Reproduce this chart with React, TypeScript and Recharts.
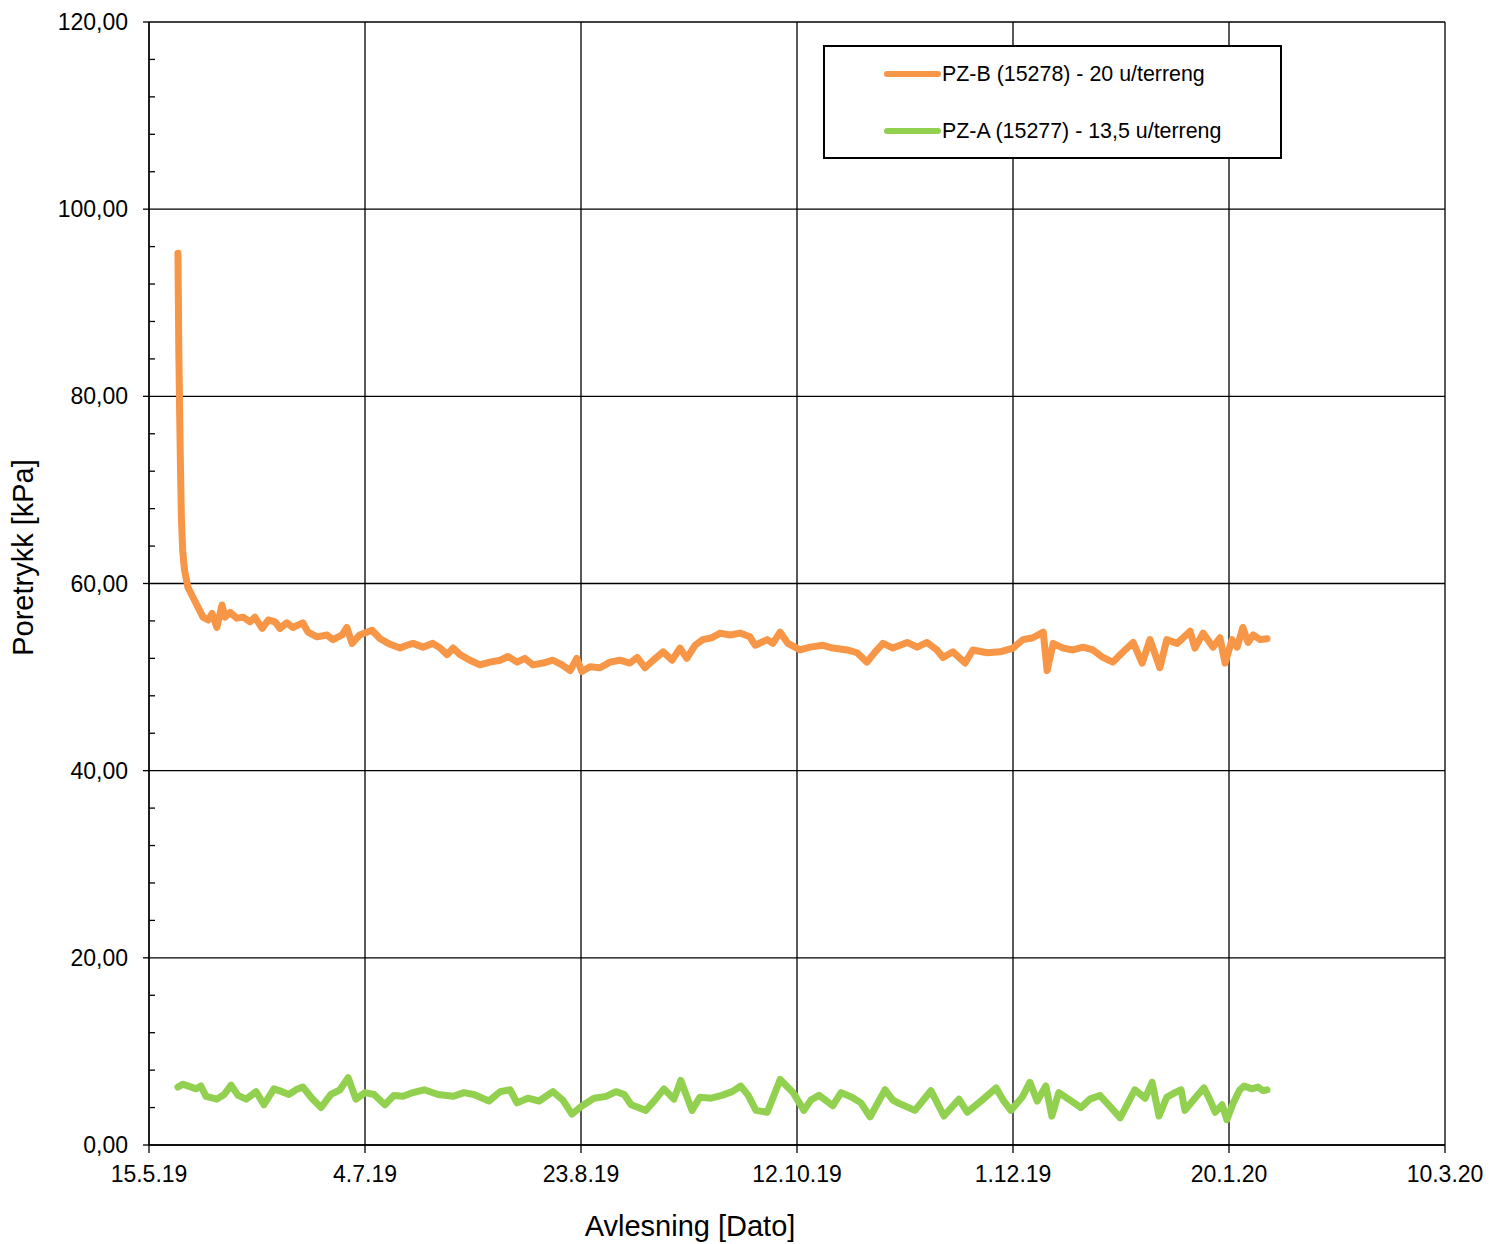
import { LineChart, Line, XAxis, YAxis, CartesianGrid, Legend, Label } from 'recharts'

const ORANGE = '#F79646'
const GREEN  = '#92D050'
const FONT   = '"Liberation Sans", Arial, sans-serif'

// x values are days after 15.5.19
const pzBDay = [
  6.7, 6.9, 7.1, 7.3, 7.5, 7.8, 8.2, 9.0, 10.2, 11.3, 12.5, 13.7, 14.6, 15.7, 16.9, 17.6, 18.8, 20.3,
  21.8, 23.4, 24.5, 26.2, 27.6, 29.2, 30.3, 31.9, 33.3, 35.6, 36.8, 38.9, 41.2, 42.6, 44.7, 45.8,
  47.0, 48.8, 51.6, 53.5, 55.8, 58.1, 59.7, 61.1, 63.4, 65.7, 67.4, 69.0, 70.4, 72.0, 74.3, 76.6,
  78.9, 81.3, 83.1, 85.2, 87.0, 88.9, 91.2, 93.5, 95.6, 97.5, 99.0, 100.2, 102.1, 104.4, 106.7,
  109.0, 111.3, 113.0, 114.8, 116.7, 119.0, 121.1, 122.9, 124.5, 126.4, 128.2, 130.3, 132.2, 134.5,
  136.8, 139.1, 140.3, 143.1, 144.4, 146.1, 147.9, 150.7, 153.0, 156.0, 158.3, 161.6, 163.9, 166.2,
  168.1, 169.9, 172.2, 175.5, 177.8, 180.1, 182.4, 183.8, 186.1, 188.9, 190.7, 194.0, 197.0, 200.0,
  202.3, 204.6, 207.0, 207.9, 209.3, 211.6, 213.9, 216.2, 218.5, 220.8, 223.1, 225.5, 227.8, 229.9,
  231.7, 234.0, 235.6, 238.0, 241.0, 242.1, 244.0, 246.3, 247.9, 249.1, 250.7, 251.9, 253.2, 254.4,
  255.6, 257.2, 258.8,
]
const pzBKpa = [
  95.3, 85.0, 78.0, 72.0, 67.0, 63.5, 61.5, 59.6, 58.5, 57.5, 56.4, 56.1, 56.8, 55.3, 57.7, 56.4, 56.9, 56.3,
  56.4, 55.9, 56.4, 55.2, 56.1, 55.9, 55.2, 55.8, 55.3, 55.8, 54.8, 54.3, 54.5, 54.0, 54.5, 55.3,
  53.6, 54.5, 55.0, 54.1, 53.5, 53.1, 53.4, 53.6, 53.2, 53.6, 53.1, 52.4, 53.1, 52.4, 51.8, 51.3,
  51.6, 51.8, 52.2, 51.6, 52.0, 51.3, 51.5, 51.8, 51.3, 50.7, 52.0, 50.6, 51.1, 51.0, 51.6,
  51.8, 51.5, 52.1, 51.0, 51.8, 52.7, 51.8, 53.1, 52.0, 53.4, 54.0, 54.2, 54.7, 54.5,
  54.7, 54.3, 53.4, 54.0, 53.6, 54.8, 53.6, 52.9, 53.2, 53.4, 53.1, 52.9, 52.6, 51.6,
  52.7, 53.6, 53.1, 53.7, 53.2, 53.7, 52.9, 52.1, 52.7, 51.5, 52.9, 52.6, 52.7, 53.1,
  54.0, 54.2, 54.8, 50.7, 53.6, 53.1, 52.9, 53.2, 52.9, 52.1, 51.6, 52.7, 53.7, 51.5,
  54.0, 51.0, 54.0, 53.6, 54.9, 53.1, 54.7, 53.2, 54.2, 51.5, 54.0, 53.2, 55.3, 53.7,
  54.5, 54.0, 54.1,
]

const pzADay = [
  6.7, 7.9, 10.9, 12.0, 13.2, 15.7, 17.4, 19.0, 20.6, 22.5, 24.8, 26.6, 28.9, 30.8, 32.4, 34.0, 35.6,
  37.7, 39.8, 42.1, 44.2, 46.1, 47.9, 50.0, 52.1, 54.6, 56.7, 58.8, 61.1, 63.7, 66.9, 70.4, 72.9,
  75.2, 78.7, 81.3, 83.6, 85.2, 87.7, 90.3, 93.5, 95.8, 97.9, 100.0, 103.0, 105.8, 108.1, 110.0,
  111.6, 115.0, 117.1, 119.2, 121.5, 123.1, 125.7, 127.5, 130.1, 132.6, 135.0, 137.0, 138.7, 140.5,
  143.1, 144.4, 146.1, 149.1, 151.6, 153.2, 155.1, 158.3, 160.2, 162.7, 164.8, 166.9, 170.4, 172.2,
  173.8, 177.3, 181.0, 184.0, 187.5, 189.4, 192.6, 196.1, 197.7, 199.5, 202.1, 203.9, 205.6, 207.6,
  209.0, 210.6, 213.2, 215.7, 217.8, 220.1, 222.7, 224.8, 228.2, 230.6, 232.2, 233.8, 235.6, 237.5,
  238.9, 239.8, 242.1, 244.2, 245.6, 246.8, 248.4, 249.5, 250.9, 252.5, 253.5, 255.3, 256.7, 257.9,
  258.8,
]
const pzAKpa = [
  6.2, 6.5, 6.0, 6.3, 5.2, 4.9, 5.4, 6.4, 5.3, 4.9, 5.7, 4.3, 6.0, 5.7, 5.4, 5.9, 6.2,
  5.0, 4.0, 5.4, 5.9, 7.2, 4.9, 5.6, 5.4, 4.3, 5.3, 5.2, 5.6, 5.9, 5.4, 5.2, 5.6,
  5.4, 4.7, 5.7, 5.9, 4.5, 5.0, 4.7, 5.7, 4.8, 3.3, 4.1, 5.0, 5.2, 5.7, 5.4,
  4.3, 3.7, 4.8, 6.0, 4.9, 6.9, 3.7, 5.1, 5.0, 5.3, 5.7, 6.3, 5.3, 3.7,
  3.5, 5.0, 7.0, 5.6, 3.7, 4.8, 5.3, 4.2, 5.6, 5.1, 4.5, 3.0, 5.9, 4.8,
  4.4, 3.7, 5.8, 3.1, 4.9, 3.5, 4.7, 6.1, 4.8, 3.7, 5.1, 6.7, 4.7, 6.3,
  3.1, 5.6, 4.8, 4.0, 4.9, 5.3, 4.0, 2.9, 5.9, 5.0, 6.7, 3.1, 5.1, 5.6,
  5.9, 3.7, 5.0, 6.1, 4.8, 3.5, 4.3, 2.7, 4.4, 5.9, 6.3, 6.0, 6.2, 5.8,
  5.9,
]

const xTicks  = [0, 50, 100, 150, 200, 250, 300]
const yMajor  = [0, 20, 40, 60, 80, 100, 120]
const yTicks  = [0, 4, 8, 12, 16, 20, 24, 28, 32, 36, 40, 44, 48, 52, 56, 60, 64, 68, 72, 76, 80,
                 84, 88, 92, 96, 100, 104, 108, 112, 116, 120]

const START = Date.UTC(2019, 4, 15)

const pzBData = pzBDay.map((d, i) => ({ d, v: pzBKpa[i] }))
const pzAData = pzADay.map((d, i) => ({ d, v: pzAKpa[i] }))

function fmtDate(d: number) {
  const dt = new Date(START + d * 86400000)
  return `${dt.getUTCDate()}.${dt.getUTCMonth() + 1}.${dt.getUTCFullYear() % 100}`
}

function YTick({ x, y, payload }: any) {
  const v = payload.value as number
  if (v % 20 !== 0) {
    return <line x1={x} x2={x + 6} y1={y} y2={y} stroke="#000" strokeWidth={1.3} />
  }
  return (
    <g>
      <line x1={x - 6} x2={x} y1={y} y2={y} stroke="#000" strokeWidth={1.3} />
      <text x={x - 21} y={y} dy="0.355em" textAnchor="end"
        style={{ fontFamily: FONT, fontSize: 23, fill: '#000' }}>
        {v.toFixed(2).replace('.', ',')}
      </text>
    </g>
  )
}

function XTick({ x, y, payload }: any) {
  return (
    <text x={x} y={y + 29} textAnchor="middle" style={{ fontFamily: FONT, fontSize: 23, fill: '#000' }}>
      {fmtDate(payload.value)}
    </text>
  )
}

function YTitle({ viewBox }: any) {
  const cy = viewBox.y + viewBox.height / 2 - 26
  return (
    <text x={25} y={cy} transform={`rotate(-90, 25, ${cy})`} textAnchor="middle"
      style={{ fontFamily: FONT, fontSize: 29, fill: '#000' }}>
      Poretrykk [kPa]
    </text>
  )
}

function XTitle({ viewBox }: any) {
  const cx = viewBox.x + viewBox.width / 2 - 107
  return (
    <text x={cx} y={1228} textAnchor="middle" style={{ fontFamily: FONT, fontSize: 29, fill: '#000' }}>
      Avlesning [Dato]
    </text>
  )
}

const legendItems = [
  { name: 'PZ-B (15278) - 20 u/terreng', color: ORANGE, top: 29 },
  { name: 'PZ-A (15277) - 13,5 u/terreng', color: GREEN, top: 86 },
]

function BoxLegend() {
  return (
    <div style={{
      position: 'relative', width: 459, height: 114, boxSizing: 'border-box',
      border: '2px solid #000', background: '#fff', fontFamily: FONT, fontSize: 21.4, color: '#000',
    }}>
      {legendItems.map(it => (
        <div key={it.name} style={{ position: 'absolute', left: 0, top: it.top - 2 - 14, height: 28, display: 'flex', alignItems: 'center' }}>
          <svg width={117} height={28} style={{ display: 'block' }}>
            <line x1={62} x2={113} y1={14} y2={14} stroke={it.color} strokeWidth={6} strokeLinecap="round" />
          </svg>
          <span style={{ whiteSpace: 'nowrap' }}>{it.name}</span>
        </div>
      ))}
    </div>
  )
}

export default function App() {
  return (
    <LineChart width={1494} height={1236} margin={{ top: 14, right: 57, left: 0, bottom: 0 }}>
      <CartesianGrid horizontalValues={yMajor} verticalValues={xTicks} stroke="#000" strokeWidth={1.3} strokeDasharray="" />
      <XAxis dataKey="d" type="number" domain={[0, 300]} ticks={xTicks} allowDataOverflow
        height={99} tickSize={8} tickMargin={0} tick={<XTick />}
        axisLine={{ stroke: '#000', strokeWidth: 1.3 }} tickLine={{ stroke: '#000', strokeWidth: 1.3 }}
        label={<Label content={<XTitle />} />} />
      <YAxis type="number" domain={[0, 120]} ticks={yTicks} interval={0} width={141}
        tickSize={0} tickMargin={0} tickLine={false} tick={<YTick />}
        axisLine={{ stroke: '#000', strokeWidth: 1.3 }}
        label={<Label content={<YTitle />} />} />
      <Legend layout="vertical" align="center" verticalAlign="middle" content={<BoxLegend />}
        wrapperStyle={{ top: 37, left: 815, width: 459, height: 114 }} />
      <Line data={pzBData} dataKey="v" name="PZ-B (15278) - 20 u/terreng" stroke={ORANGE} strokeWidth={7}
        dot={false} strokeLinejoin="round" strokeLinecap="round" isAnimationActive={false} />
      <Line data={pzAData} dataKey="v" name="PZ-A (15277) - 13,5 u/terreng" stroke={GREEN} strokeWidth={7}
        dot={false} strokeLinejoin="round" strokeLinecap="round" isAnimationActive={false} />
    </LineChart>
  )
}
